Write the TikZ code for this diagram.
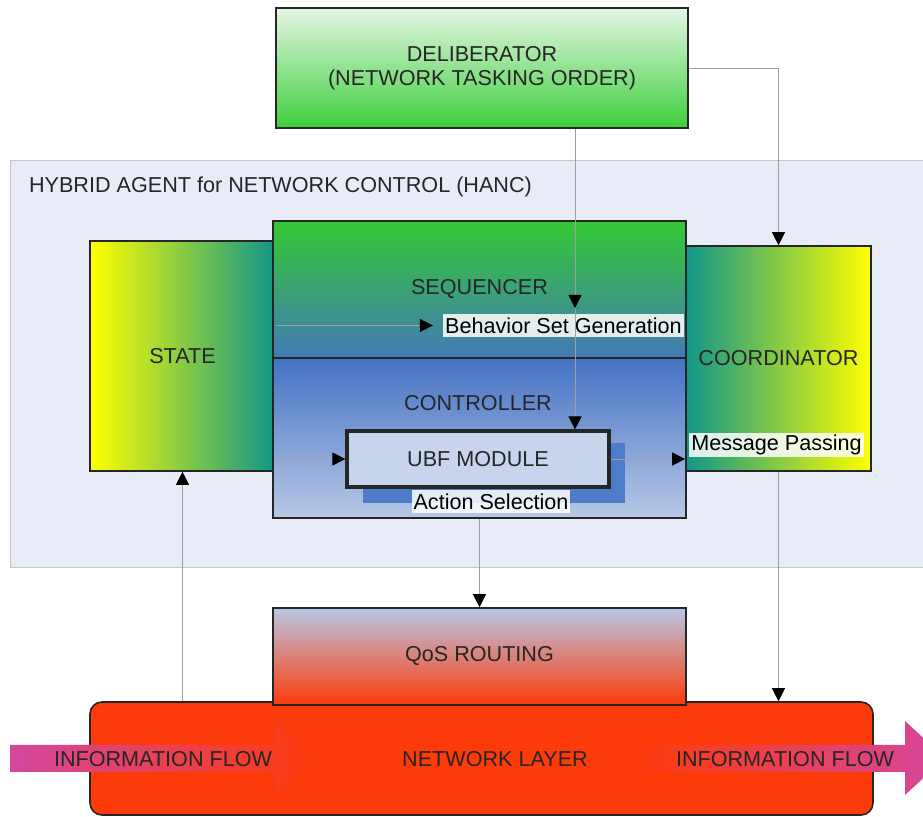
\documentclass[tikz,border=0pt]{standalone}
\usepackage{fontspec}
\setmainfont{Liberation Sans}
\usetikzlibrary{arrows.meta}

\newcommand{\midWidth}{206.5pt}
\newcommand{\sideWidth}{92.5pt}

\definecolor{hancBg}{HTML}{E8ECF6}
\definecolor{leafGreen}{HTML}{3CCF3C}
\definecolor{paleGreen}{HTML}{E6F6E4}
\definecolor{seqGreen}{HTML}{33C833}
\definecolor{ctrlBlue}{HTML}{4472C4}
\definecolor{paleBlue}{HTML}{B8C8E6}
\definecolor{ubfFill}{HTML}{C8D4EC}
\definecolor{shadeBlue}{HTML}{4D7DC9}
\definecolor{stateYellow}{HTML}{FFFF00}
\definecolor{stateTeal}{HTML}{119688}
\definecolor{netRed}{HTML}{FD3A0A}
\definecolor{flowPink}{HTML}{D4479F}
\definecolor{flowEdge}{HTML}{E8441A}

\tikzset{
  box/.style={draw=black!85, line width=0.8pt, inner sep=0pt, align=center, text=black!85},
  tag/.style={fill=white, fill opacity=0.85, text opacity=1, inner sep=1pt, minimum height=11.5pt},
  link/.style={draw=gray!75, line width=0.4pt, -{Triangle[length=6.5pt,width=6.5pt,color=black]}}
}

\begin{document}
\begin{tikzpicture}[x=0.5pt, y=-0.5pt, font=\fontsize{10.8}{12}\selectfont]
  \useasboundingbox (0,0) rectangle (923,817);

  \node[draw=gray!45, fill=hancBg, minimum width=462.5pt, minimum height=203.5pt, inner sep=0pt] (hanc) at (472.5,363.5) {};
  \node[anchor=west, text=black!85] (hanctitle) at (22,187) {HYBRID AGENT for NETWORK CONTROL (HANC)};

  \node[box, top color=paleGreen, bottom color=leafGreen, minimum width=206pt, minimum height=60pt] (delib) at (482,68) {DELIBERATOR\\(NETWORK TASKING ORDER)};

  \node[box, left color=stateYellow, right color=stateTeal, minimum width=\sideWidth, minimum height=115pt] (state) at (182.5,356) {STATE};
  \node[box, left color=stateTeal, right color=stateYellow, minimum width=\sideWidth, minimum height=112.5pt] (coord) at (778.5,358.5) {COORDINATOR};

  \node[box, top color=seqGreen, bottom color=ctrlBlue!90!seqGreen, minimum width=\midWidth, minimum height=68.5pt] (seq) at (479.5,289.5) {SEQUENCER};
  \node[box, top color=ctrlBlue, bottom color=paleBlue, minimum width=\midWidth, minimum height=80pt] (ctrl) at (479.5,438) {};
  \node[text=black!85] (ctrltitle) at (478,403) {CONTROLLER};

  \node[fill=shadeBlue, minimum width=131pt, minimum height=30pt, inner sep=0pt] (ubfshade) at (494,473) {};
  \node[box, fill=ubfFill, line width=1.6pt, minimum width=131pt, minimum height=28pt] (ubf) at (478,459) {UBF MODULE};

  \node[tag] (behav) at (563.5,325.5) {Behavior Set Generation};
  \node[tag] (action) at (491,501.5) {Action Selection};
  \node[tag] (msg) at (776.5,445) {Message Passing};

  \node[box, fill=netRed, rounded corners=6pt, minimum width=391.5pt, minimum height=56.5pt] (net) at (481.5,758.5) {};
  \node[box, top color=paleBlue, bottom color=netRed, minimum width=\midWidth, minimum height=48.5pt] (qos) at (479.5,656.5) {QoS ROUTING};

  \shade[left color=flowPink, right color=netRed] (10,745) -- (275,745) -- (275,721) -- (317,758) -- (275,795) -- (275,772) -- (10,772) -- cycle;
  \draw[flowEdge, line width=0.4pt] (275,745) -- (275,721) -- (317,758) -- (275,795) -- (275,772);
  \shade[left color=netRed, right color=flowPink] (633,745) -- (905,745) -- (905,721) -- (945,758) -- (905,795) -- (905,772) -- (633,772) -- cycle;
  \draw[flowEdge, line width=0.4pt] (633,745) -- (633,772);

  \node[text=black!85] (flowin) at (163,759) {INFORMATION FLOW};
  \node[text=black!85] (netlayer) at (495,759) {NETWORK LAYER};
  \node[text=black!85] (flowout) at (785,759) {INFORMATION FLOW};

  \coordinate (seqin) at (575,308);
  \draw[link] (delib.south -| seqin) -- (seqin);
  \draw[link] (seqin) -- (seqin |- ubf.north);
  \draw[link] (delib.east) -| (coord.north);
  \draw[link] (state.east |- behav.west) -- ([xshift=-5pt]behav.west);
  \draw[link] (state.east |- ubf.west) -- (ubf.west);
  \draw[link] (ubf.east) -- (ubf.east -| coord.west);
  \draw[link] (ctrl.south) -- (qos.north);
  \draw[link] (coord.south) -- (coord.south |- net.north);
  \draw[link] (net.north -| state.south) -- (state.south);
\end{tikzpicture}
\end{document}
